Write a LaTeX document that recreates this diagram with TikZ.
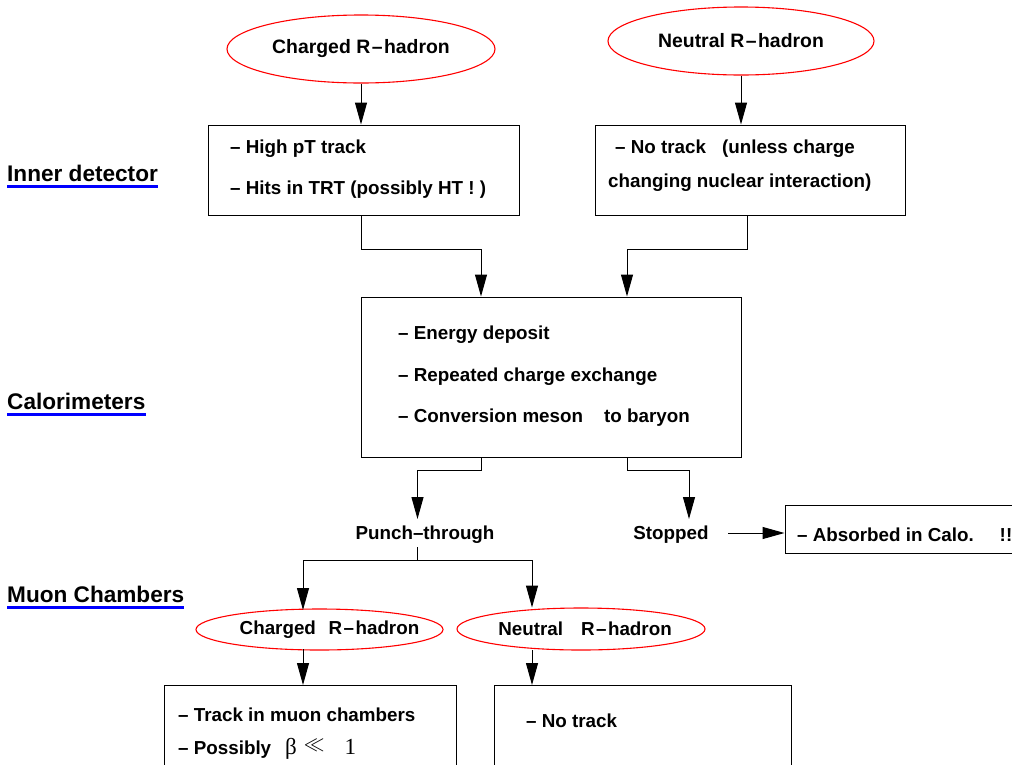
\documentclass[tikz,border=0pt]{standalone}
\usepackage{fontspec}
\setmainfont{Liberation Sans}
\newfontfamily\serifrm{Liberation Serif}
\usetikzlibrary{arrows.meta,shapes.geometric}
\begin{document}
\begin{tikzpicture}[x=1pt,y=-1pt,
  txt/.style={font=\fontsize{18.8}{22}\selectfont\bfseries, inner sep=0pt, anchor=west, yshift=-2pt},
  lbl/.style={font=\fontsize{22.6}{26}\selectfont\bfseries, inner sep=0pt, anchor=base west},
  oval/.style={draw=red, line width=1.1pt, ellipse, inner sep=0pt, font=\fontsize{19.4}{22}\selectfont\bfseries},
  box/.style={draw, line width=1pt, rectangle, inner sep=0pt},
  arr/.style={line width=1pt, -{Triangle[length=22pt,width=12pt]}},
  ln/.style={line width=1pt},
  uline/.style={blue, line width=3.5pt}]
\useasboundingbox (0,0) rectangle (1012,764);
\clip (0,0) rectangle (1012,764);

% left labels
\node[lbl] (lab1) at (7,181) {Inner detector};
\draw[uline] ([yshift=-5.5pt]lab1.base west) -- ([yshift=-5.5pt]lab1.base east);
\node[lbl] (lab2) at (7,409) {Calorimeters};
\draw[uline] ([yshift=-5.5pt]lab2.base west) -- ([yshift=-5.5pt]lab2.base east);
\node[lbl] (lab3) at (7,602) {Muon Chambers};
\draw[uline] ([yshift=-5.5pt]lab3.base west) -- ([yshift=-5.5pt]lab3.base east);

% top ovals
\node[oval, minimum width=268pt, minimum height=68pt] (ov1) at (361,49) {\raisebox{-1pt}{Charged R\hspace{1.5pt}–\hspace{1.5pt}hadron}};
\node[oval, minimum width=266pt, minimum height=68pt] (ov2) at (741,41) {\raisebox{-1pt}{Neutral R\hspace{1.5pt}–\hspace{1.5pt}hadron}};

% inner detector boxes
\node[box, minimum width=311pt, minimum height=90pt] (b1) at (363.5,170) {};
\node[txt] (t11) at (230,147) {– High pT track};
\node[txt] (t12) at (230,188) {– Hits in TRT (possibly HT ! )};
\node[box, minimum width=310pt, minimum height=90pt] (b2) at (750,170) {};
\node[txt] (t21) at (615,147) {– No track\hspace{16pt}(unless charge};
\node[txt] (t22) at (608,181) {changing nuclear interaction)};

\draw[arr] (361,0 |- ov1.south) -- (361,0 |- b1.north);
\draw[arr] (741,0 |- ov2.south) -- (741,0 |- b2.north);

% calorimeter box
\node[box, minimum width=380pt, minimum height=160pt] (b3) at (551,377) {};
\node[txt] (t31) at (398,333) {– Energy deposit};
\node[txt] (t32) at (398,375) {– Repeated charge exchange};
\node[txt] (t33) at (398,416) {– Conversion meson\hspace{21pt}to baryon};

\draw[arr] (361,0 |- b1.south) -- (361,249) -| (481,0 |- b3.north);
\draw[arr] (747,0 |- b2.south) -- (747,249) -| (627,0 |- b3.north);

% punch-through / stopped
\node[txt, anchor=center] (pt) at (425,533) {Punch–through};
\node[txt, anchor=center] (st) at (671,533) {Stopped};
\draw[arr] (481,0 |- b3.south) -- (481,470.5) -| (417.5,519);
\draw[arr] (627,0 |- b3.south) -- (627,470.5) -| (689,519);

\node[box, minimum width=330pt, minimum height=48pt, anchor=west] (b4) at (784.5,529) {};
\node[txt] (t4) at (797,533) {– Absorbed in Calo.\hspace{26pt}!!};
\draw[arr] (728,533) -- (784.5,533);

% muon chamber ovals
\node[oval, font=\fontsize{18.8}{22}\selectfont\bfseries, minimum width=247pt, minimum height=41pt, inner xsep=-26pt] (ov3) at (319.5,629.5) {\hspace{20pt}\raisebox{-1pt}{Charged\hspace{12.6pt}R\hspace{1.5pt}–\hspace{1.5pt}hadron}};
\node[oval, font=\fontsize{18.8}{22}\selectfont\bfseries, minimum width=248pt, minimum height=42pt, inner xsep=-26pt] (ov4) at (581,629) {\hspace{8pt}\raisebox{-1pt}{Neutral\hspace{18pt}R\hspace{1.5pt}–\hspace{1.5pt}hadron}};

\draw[ln] (417.5,547) -- (417.5,560.5);
\draw[arr] (417.5,560.5) -| (303,610);
\draw[arr] (417.5,560.5) -| (532,607.5);

% bottom boxes
\node[box, minimum width=292pt, minimum height=130pt, anchor=north west] (b5) at (164,685) {};
\node[txt] (t51) at (178,713) {– Track in muon chambers};
\node[txt] (t52) at (178,747) {– Possibly\hspace{14pt}{\serifrm\mdseries\fontsize{23}{24}\selectfont β\hspace{7pt}\raisebox{4pt}{\fontsize{21}{22}\selectfont$\ll$}\hspace{20pt}1}};
\node[box, minimum width=297pt, minimum height=130pt, anchor=north west] (b6) at (494,685) {};
\node[txt] (t61) at (526,719) {– No track};

\draw[arr] (303,649) -- (303,0 |- b5.north);
\draw[arr] (532,650) -- (532,0 |- b6.north);
\end{tikzpicture}
\end{document}
